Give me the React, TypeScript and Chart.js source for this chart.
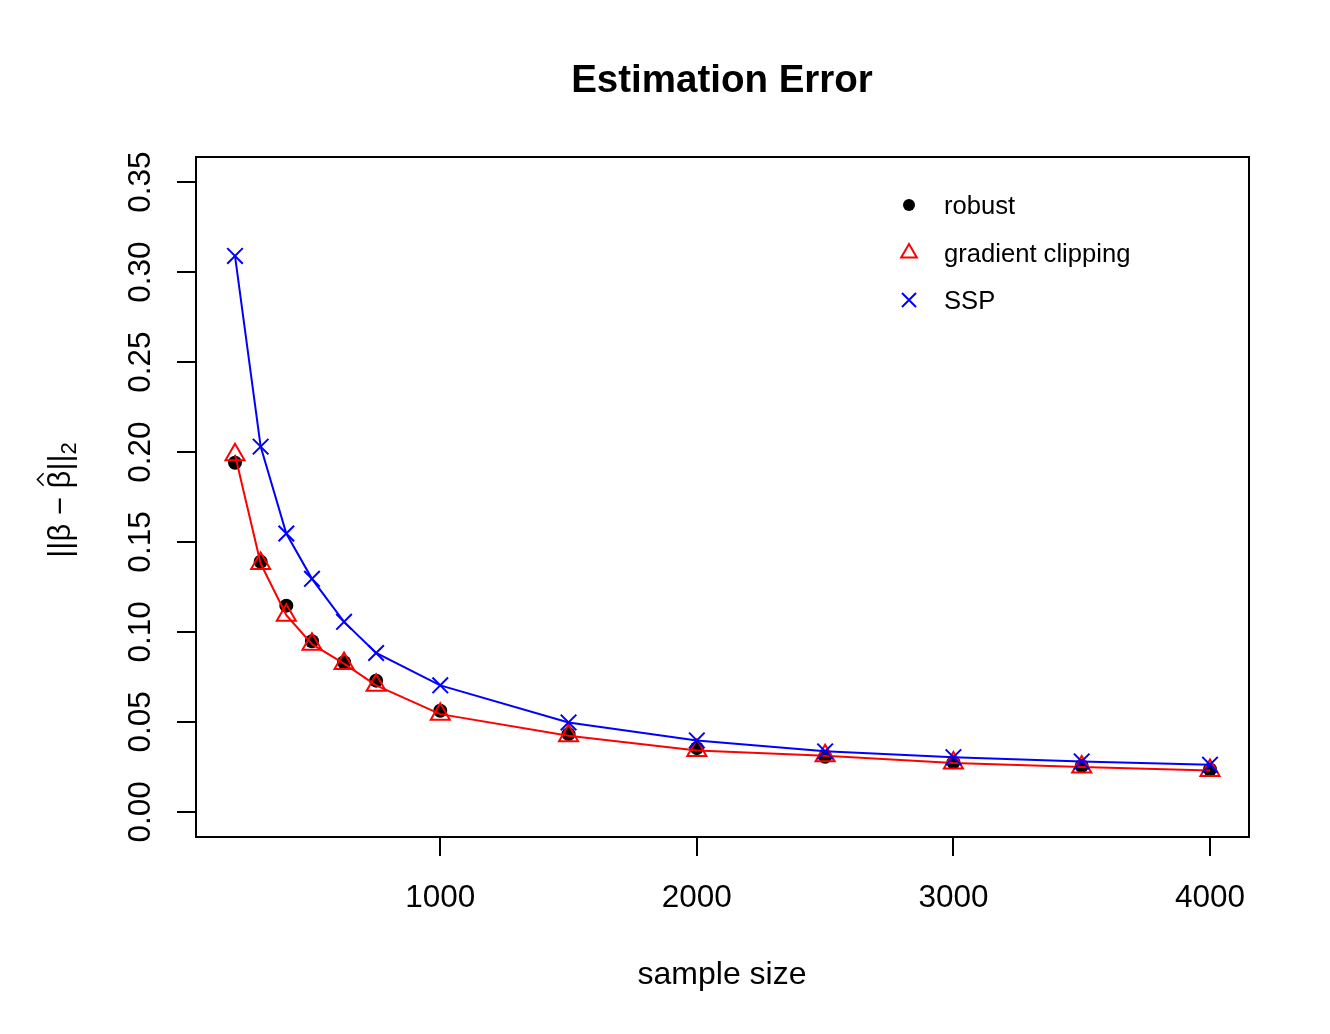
import { useEffect, useRef } from "react";
import { Chart, registerables } from "chart.js";

Chart.register(...registerables);

const sampleSizes = [200, 300, 400, 500, 625, 750, 1000, 1500, 2000, 2500, 3000, 3500, 4000];
const robustErr = [0.194, 0.139, 0.1146, 0.0948, 0.0831, 0.0729, 0.0562, 0.0432, 0.0354, 0.0306, 0.0275, 0.0255, 0.0235];
const clippingErr = [0.1985, 0.138, 0.1093, 0.0932, 0.0824, 0.0703, 0.0543, 0.0423, 0.0341, 0.0312, 0.0272, 0.0249, 0.0229];
const sspErr = [0.309, 0.203, 0.1547, 0.1295, 0.1056, 0.0883, 0.0703, 0.0497, 0.0397, 0.0336, 0.0304, 0.028, 0.0262];

const xTickValues = [1000, 2000, 3000, 4000];
const yTickValues = [0, 0.05, 0.1, 0.15, 0.2, 0.25, 0.3, 0.35];
const yTickLabels = ["0.00", "0.05", "0.10", "0.15", "0.20", "0.25", "0.30", "0.35"];

const legendLabels = ["robust", "gradient clipping", "SSP"];

const FONT = "'Liberation Sans', Arial, Helvetica, sans-serif";

const toPoints = (ys: number[]) => sampleSizes.map((x, i) => ({ x, y: ys[i] }));

// text, axes labels, box and legend drawn in R style
const decorations = {
  id: "decorations",
  afterDraw(chart: any) {
    const { ctx, chartArea } = chart;
    const xs = chart.scales.x;
    const ys = chart.scales.y;
    ctx.save();

    // plot box
    ctx.strokeStyle = "#000";
    ctx.lineWidth = 2;
    ctx.strokeRect(chartArea.left, chartArea.top, chartArea.right - chartArea.left, chartArea.bottom - chartArea.top);

    ctx.fillStyle = "#000";

    // title
    ctx.font = `bold 38.5px ${FONT}`;
    ctx.textAlign = "center";
    ctx.textBaseline = "alphabetic";
    ctx.fillText("Estimation Error", 722, 92);

    // x tick labels
    ctx.font = `31.5px ${FONT}`;
    xTickValues.forEach((v) => {
      ctx.fillText(String(v), xs.getPixelForValue(v), 907);
    });

    // x axis title
    ctx.font = `32px ${FONT}`;
    ctx.fillText("sample size", 722, 984);

    // y tick labels (rotated)
    ctx.font = `31.5px ${FONT}`;
    yTickValues.forEach((v, i) => {
      ctx.save();
      ctx.translate(150, ys.getPixelForValue(v));
      ctx.rotate(-Math.PI / 2);
      ctx.textAlign = "center";
      ctx.fillText(yTickLabels[i], 0, 0);
      ctx.restore();
    });

    // y axis title: ||beta - hat(beta)||_2
    ctx.save();
    ctx.translate(70, 500);
    ctx.rotate(-Math.PI / 2);
    ctx.textAlign = "left";
    const fs = 31;
    ctx.font = `${fs}px ${FONT}`;
    const p1 = "||\u03b2";
    const pm = " \u2212 ";
    const p2 = "\u03b2";
    const p3 = "||";
    const w1 = ctx.measureText(p1).width;
    const wm = ctx.measureText(pm).width;
    const w2 = ctx.measureText(p2).width;
    const w3 = ctx.measureText(p3).width;
    ctx.font = `22px ${FONT}`;
    const w4 = ctx.measureText("2").width;
    const total = w1 + wm + w2 + w3 + w4;
    let cx = -total / 2;
    ctx.font = `${fs}px ${FONT}`;
    ctx.fillText(p1, cx, 0);
    cx += w1;
    ctx.fillText(pm, cx, 0);
    cx += wm;
    ctx.fillText(p2, cx, 0);
    // hat
    ctx.lineWidth = 1.6;
    ctx.beginPath();
    ctx.moveTo(cx + w2 * 0.15, -fs * 0.85);
    ctx.lineTo(cx + w2 * 0.5, -fs * 1.05);
    ctx.lineTo(cx + w2 * 0.85, -fs * 0.85);
    ctx.stroke();
    cx += w2;
    ctx.fillText(p3, cx, 0);
    cx += w3;
    ctx.font = `22px ${FONT}`;
    ctx.fillText("2", cx, 6);
    ctx.restore();

    // legend
    const lx = 909;
    const tx = 944;
    const rows = [205, 253, 300];
    ctx.font = `25.6px ${FONT}`;
    ctx.textAlign = "left";
    ctx.textBaseline = "middle";
    legendLabels.forEach((lab, i) => {
      ctx.fillStyle = "#000";
      ctx.fillText(lab, tx, rows[i] + 2);
    });
    // robust marker
    ctx.fillStyle = "#000";
    ctx.beginPath();
    ctx.arc(lx, rows[0], 6, 0, Math.PI * 2);
    ctx.fill();
    // clipping marker
    const r = 9;
    ctx.strokeStyle = "#ff0000";
    ctx.lineWidth = 2;
    ctx.beginPath();
    ctx.moveTo(lx, rows[1] - r);
    ctx.lineTo(lx + r * Math.sin((2 * Math.PI) / 3), rows[1] + r / 2);
    ctx.lineTo(lx - r * Math.sin((2 * Math.PI) / 3), rows[1] + r / 2);
    ctx.closePath();
    ctx.stroke();
    // ssp marker
    const h = 7;
    ctx.strokeStyle = "#0000ff";
    ctx.beginPath();
    ctx.moveTo(lx - h, rows[2] - h);
    ctx.lineTo(lx + h, rows[2] + h);
    ctx.moveTo(lx + h, rows[2] - h);
    ctx.lineTo(lx - h, rows[2] + h);
    ctx.stroke();

    ctx.restore();
  },
};

const App = () => {
  const canvasRef = useRef<HTMLCanvasElement | null>(null);
  const chartRef = useRef<Chart | null>(null);

  useEffect(() => {
    document.body.style.margin = "0";
    if (!canvasRef.current) return;
    if (chartRef.current) chartRef.current.destroy();

    const ctx = canvasRef.current.getContext("2d");
    if (!ctx) return;

    chartRef.current = new Chart(ctx, {
      type: "line",
      data: {
        datasets: [
          {
            label: "robust",
            data: toPoints(robustErr),
            showLine: false,
            pointStyle: "circle",
            pointRadius: 7,
            pointBackgroundColor: "#000",
            pointBorderColor: "#000",
            pointBorderWidth: 0,
            order: 3,
          },
          {
            label: "gradient clipping",
            data: toPoints(clippingErr),
            borderColor: "#ff0000",
            borderWidth: 2,
            tension: 0,
            pointStyle: "triangle",
            pointRadius: 11,
            pointBackgroundColor: "rgba(0,0,0,0)",
            pointBorderColor: "#ff0000",
            pointBorderWidth: 2,
            order: 2,
          },
          {
            label: "SSP",
            data: toPoints(sspErr),
            borderColor: "#0000ff",
            borderWidth: 2,
            tension: 0,
            pointStyle: "crossRot",
            pointRadius: 11,
            pointBackgroundColor: "rgba(0,0,0,0)",
            pointBorderColor: "#0000ff",
            pointBorderWidth: 2,
            order: 1,
          },
        ],
      },
      options: {
        animation: false,
        responsive: false,
        devicePixelRatio: 1,
        layout: { padding: { top: 157, right: 81, left: 0, bottom: 0 } },
        plugins: {
          legend: { display: false },
          title: { display: false },
          tooltip: { enabled: false },
        },
        scales: {
          x: {
            type: "linear",
            min: 48,
            max: 4152,
            afterBuildTicks: (scale: any) => {
              scale.ticks = xTickValues.map((v) => ({ value: v }));
            },
            afterFit: (scale: any) => {
              scale.height = 197;
            },
            ticks: { display: false },
            grid: { drawOnChartArea: false, drawTicks: true, tickLength: 19, color: "#000", lineWidth: 2 },
            border: { display: false },
          },
          y: {
            type: "linear",
            min: -0.014,
            max: 0.364,
            afterBuildTicks: (scale: any) => {
              scale.ticks = yTickValues.map((v) => ({ value: v }));
            },
            afterFit: (scale: any) => {
              scale.width = 196;
            },
            ticks: { display: false },
            grid: { drawOnChartArea: false, drawTicks: true, tickLength: 19, color: "#000", lineWidth: 2 },
            border: { display: false },
          },
        },
      },
      plugins: [decorations],
    });

    return () => {
      if (chartRef.current) {
        chartRef.current.destroy();
        chartRef.current = null;
      }
    };
  }, []);

  return (
    <div style={{ width: 1330, height: 1034, background: "#fff" }}>
      <canvas ref={canvasRef} width={1330} height={1034} style={{ width: 1330, height: 1034 }} />
    </div>
  );
};

export default App;
